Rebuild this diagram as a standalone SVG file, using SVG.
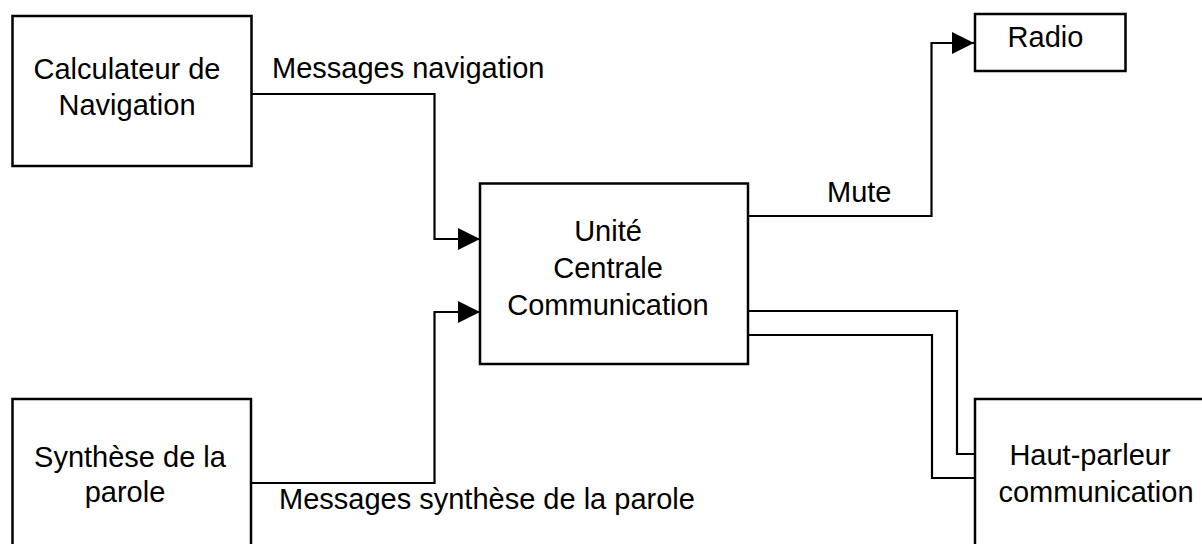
<svg xmlns="http://www.w3.org/2000/svg" width="1202" height="544" viewBox="0 0 1202 544">
<style>
.box{fill:#fff;stroke:#000;stroke-width:2.5}
.ln{fill:none;stroke:#000;stroke-width:2.2}
text{font-family:"Liberation Sans",Arial,sans-serif;font-size:29px;fill:#000}
.c{text-anchor:middle}
</style>
<defs>
<marker id="arr" markerUnits="userSpaceOnUse" viewBox="0 0 22 22" refX="22" refY="11" markerWidth="22" markerHeight="22" orient="auto">
<path d="M0,0 L22,11 L0,22 Z" fill="#000"/>
</marker>
</defs>
<rect width="1202" height="544" fill="#fff"/>
<g id="connectors">
<path class="ln" d="M251.5,94 H434.5 V239 H480" marker-end="url(#arr)"/>
<path class="ln" d="M251,483 H434.5 V312 H480" marker-end="url(#arr)"/>
<path class="ln" d="M748,216 H931.5 V43 H974" marker-end="url(#arr)"/>
<path class="ln" d="M748,311 H957 V454 H975"/>
<path class="ln" d="M748,335 H932 V478 H975"/>
<text x="272" y="78">Messages navigation</text>
<text x="279" y="509">Messages synthèse de la parole</text>
<text x="827" y="202">Mute</text>
</g>
<g id="calculateur">
<rect class="box" x="12.5" y="16" width="239" height="150"/>
<text class="c" x="127" y="79">Calculateur de</text>
<text class="c" x="127" y="115">Navigation</text>
</g>
<g id="synthese">
<rect class="box" x="12.5" y="399" width="238.5" height="170"/>
<text class="c" x="130" y="467">Synthèse de la</text>
<text class="c" x="125" y="502">parole</text>
</g>
<g id="unite-centrale">
<rect class="box" x="480" y="183.5" width="268" height="180.5"/>
<text class="c" x="608" y="241">Unité</text>
<text class="c" x="608" y="278">Centrale</text>
<text class="c" x="608" y="315">Communication</text>
</g>
<g id="radio">
<rect class="box" x="975" y="14" width="150.5" height="57"/>
<text class="c" x="1045.5" y="47">Radio</text>
</g>
<g id="haut-parleur">
<rect class="box" x="975" y="399" width="260" height="170"/>
<text class="c" x="1090" y="465">Haut-parleur</text>
<text class="c" x="1096" y="502">communication</text>
</g>
</svg>
